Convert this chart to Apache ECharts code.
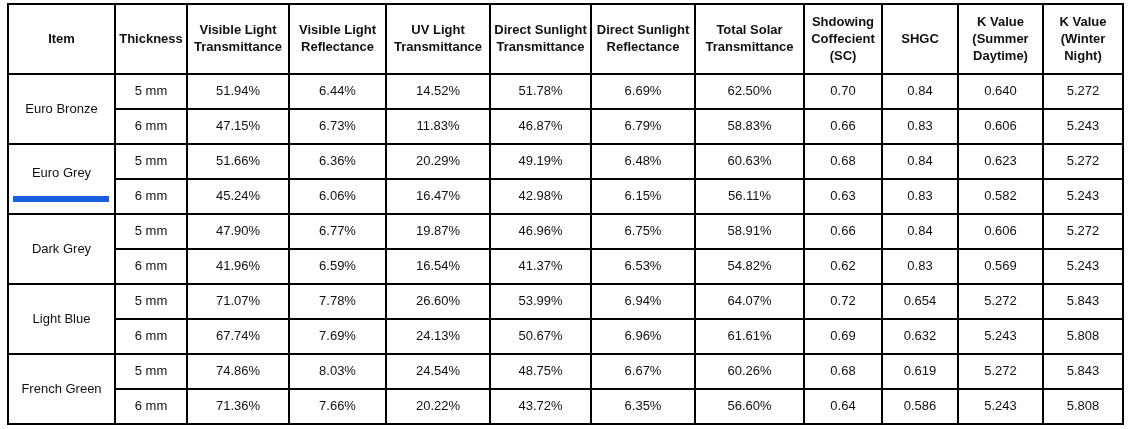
<!DOCTYPE html>
<html>
<head>
<meta charset="utf-8">
<script src="https://cdn.jsdelivr.net/npm/echarts@6/dist/echarts.min.js"></script>
<style>body{margin:0;background:#fff}</style>
</head>
<body>
<div id="main" style="width:1132px;height:429px;"></div>
<script>
var headers = ['Item', 'Thickness', 'Visible Light\nTransmittance', 'Visible Light\nReflectance', 'UV Light\nTransmittance',
  'Direct Sunlight\nTransmittance', 'Direct Sunlight\nReflectance', 'Total Solar\nTransmittance',
  'Shdowing\nCoffecient\n(SC)', 'SHGC', 'K Value\n(Summer\nDaytime)', 'K Value\n(Winter\nNight)'];
var items = ['Euro Bronze', 'Euro Grey', 'Dark Grey', 'Light Blue', 'French Green'];
var thickness = ['5 mm', '6 mm'];
var vlt = ['51.94%', '47.15%', '51.66%', '45.24%', '47.90%', '41.96%', '71.07%', '67.74%', '74.86%', '71.36%'];
var vlr = ['6.44%', '6.73%', '6.36%', '6.06%', '6.77%', '6.59%', '7.78%', '7.69%', '8.03%', '7.66%'];
var uvt = ['14.52%', '11.83%', '20.29%', '16.47%', '19.87%', '16.54%', '26.60%', '24.13%', '24.54%', '20.22%'];
var dst = ['51.78%', '46.87%', '49.19%', '42.98%', '46.96%', '41.37%', '53.99%', '50.67%', '48.75%', '43.72%'];
var dsr = ['6.69%', '6.79%', '6.48%', '6.15%', '6.75%', '6.53%', '6.94%', '6.96%', '6.67%', '6.35%'];
var tst = ['62.50%', '58.83%', '60.63%', '56.11%', '58.91%', '54.82%', '64.07%', '61.61%', '60.26%', '56.60%'];
var sc = ['0.70', '0.66', '0.68', '0.63', '0.66', '0.62', '0.72', '0.69', '0.68', '0.64'];
var shgc = ['0.84', '0.83', '0.84', '0.83', '0.84', '0.83', '0.654', '0.632', '0.619', '0.586'];
var kSummer = ['0.640', '0.606', '0.623', '0.582', '0.606', '0.569', '5.272', '5.243', '5.272', '5.243'];
var kWinter = ['5.272', '5.243', '5.272', '5.243', '5.272', '5.243', '5.843', '5.808', '5.843', '5.808'];

// column edges and row edges in table units (pixels from the table's top-left)
var colEdges = [0, 107, 179, 281, 378, 482, 583, 687, 796, 874, 950, 1035, 1115];
var rowEdges = [0, 70];
for (var r = 1; r <= 10; r++) rowEdges.push(70 + r * 35);

var cols = [vlt, vlr, uvt, dst, dsr, tst, sc, shgc, kSummer, kWinter];
var cells = [];
headers.forEach(function (h, c) {
  cells.push([colEdges[c], colEdges[c + 1], rowEdges[0], rowEdges[1], h, 1]);
});
items.forEach(function (it, g) {
  cells.push([colEdges[0], colEdges[1], rowEdges[1 + g * 2], rowEdges[3 + g * 2], it, 0]);
  for (var k = 0; k < 2; k++) {
    var r = g * 2 + k;
    cells.push([colEdges[1], colEdges[2], rowEdges[1 + r], rowEdges[2 + r], thickness[k], 0]);
    cols.forEach(function (col, c) {
      cells.push([colEdges[c + 2], colEdges[c + 3], rowEdges[1 + r], rowEdges[2 + r], col[r], 0]);
    });
  }
});

var chart = echarts.init(document.getElementById('main'));
chart.setOption({
  animation: false,
  grid: { left: 8, right: 9, top: 4, bottom: 5 },
  xAxis: { type: 'value', min: 0, max: 1115, show: false },
  yAxis: { type: 'value', min: 0, max: 420, inverse: true, show: false },
  series: [{
    type: 'custom',
    data: cells,
    renderItem: function (params, api) {
      var p0 = api.coord([api.value(0), api.value(2)]);
      var p1 = api.coord([api.value(1), api.value(3)]);
      var d = cells[params.dataIndex];
      var children = [{
        type: 'rect',
        shape: { x: p0[0], y: p0[1], width: p1[0] - p0[0], height: p1[1] - p0[1] },
        style: { fill: '#fff', stroke: '#000', lineWidth: 2 }
      }, {
        type: 'text',
        style: {
          x: (p0[0] + p1[0]) / 2, y: (p0[1] + p1[1]) / 2,
          text: d[4], align: 'center', verticalAlign: 'middle',
          font: (d[5] ? 'bold ' : '') + '13px "Liberation Sans", Arial',
          lineHeight: 17, fill: '#111'
        }
      }];
      if (d[4] === 'Euro Grey') {
        var b0 = api.coord([5, 192]);
        var b1 = api.coord([101, 198]);
        children.push({
          type: 'rect',
          shape: { x: b0[0], y: b0[1], width: b1[0] - b0[0], height: b1[1] - b0[1] },
          style: { fill: '#1a5fe0' }
        });
        children[1].style.y -= 6;
      }
      return { type: 'group', children: children };
    }
  }]
});
</script>
</body>
</html>
